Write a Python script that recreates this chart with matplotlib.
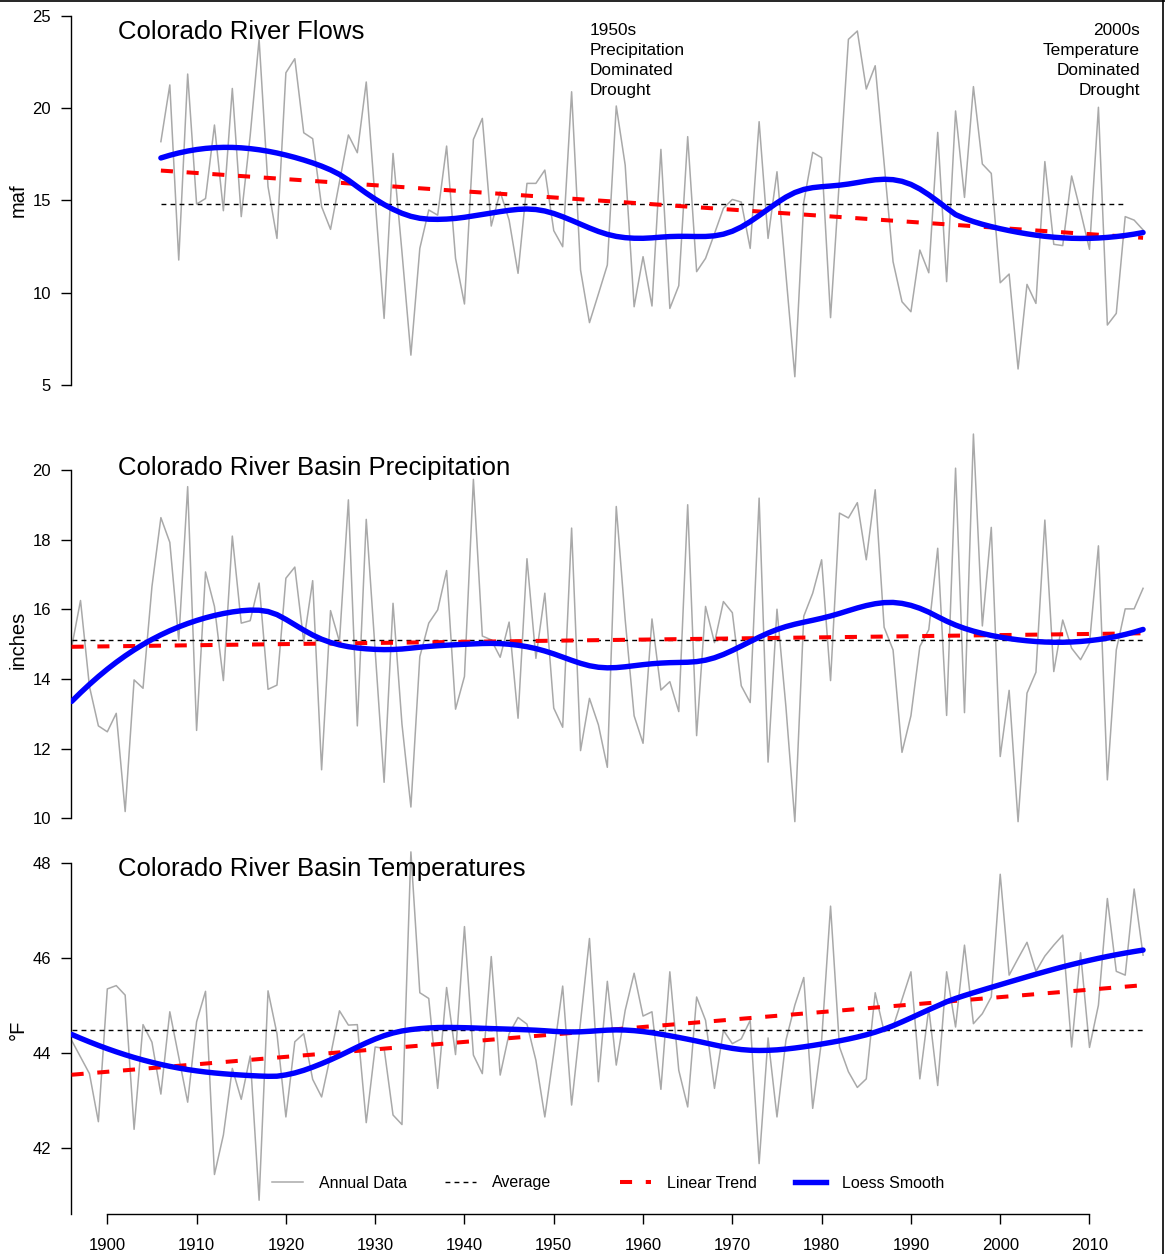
"""
Colorado River flows, basin precipitation and temperatures
 - annual data, average, linear trend and loess smooth
"""
from matplotlib import pyplot as plt
from matplotlib.lines import Line2D
import numpy as np

plt.rcParams['font.family'] = ['Liberation Sans', 'DejaVu Sans']

#%% Data
flow_years = np.arange(1906, 2017)
flow_maf = [18.18, 21.25, 11.77, 21.84,                                       # 1906-09
            14.80, 15.10, 19.08, 14.44, 21.06, 14.12, 18.50, 23.72, 15.74, 12.94,  # 1910s
            21.91, 22.67, 18.66, 18.34, 14.66, 13.43, 16.00, 18.54, 17.58, 21.41,  # 1920s
            15.00, 8.61, 17.54, 12.20, 6.62, 12.40, 14.48, 14.20, 17.94, 11.86,    # 1930s
            9.39, 18.30, 19.44, 13.61, 15.47, 13.93, 11.05, 15.92, 15.92, 16.64,   # 1940s
            13.36, 12.49, 20.88, 11.23, 8.38, 9.93, 11.50, 20.11, 16.91, 9.24,     # 1950s
            11.95, 9.28, 17.76, 9.15, 10.38, 18.45, 11.14, 11.86, 13.20, 14.57,    # 1960s
            15.05, 14.91, 12.40, 19.26, 12.94, 16.55, 11.00, 5.45, 14.90, 17.60,   # 1970s
            17.31, 8.65, 16.20, 23.72, 24.17, 21.03, 22.29, 17.00, 11.68, 9.51,    # 1980s
            8.97, 12.31, 11.08, 18.68, 10.60, 19.84, 15.16, 21.16, 16.97, 16.46,   # 1990s
            10.54, 11.01, 5.87, 10.45, 9.42, 17.10, 12.62, 12.55, 16.32, 14.40,    # 2000s
            12.35, 20.04, 8.25, 8.88, 14.12, 13.93, 13.40]                         # 2010-16

basin_years = np.arange(1896, 2017)
precip_in = [14.90, 16.25, 13.78, 12.65,                                      # 1896-99
             12.48, 13.01, 10.19, 13.97, 13.73, 16.65, 18.63, 17.92, 15.10, 19.52,  # 1900s
             12.52, 17.07, 16.08, 13.95, 18.10, 15.60, 15.67, 16.75, 13.70, 13.82,  # 1910s
             16.89, 17.21, 15.07, 16.82, 11.39, 15.96, 15.07, 19.14, 12.65, 18.58,  # 1920s
             14.80, 11.03, 16.17, 12.70, 10.32, 14.64, 15.60, 15.98, 17.11, 13.13,  # 1930s
             14.07, 19.73, 15.23, 15.12, 14.62, 15.63, 12.87, 17.45, 14.59, 16.46,  # 1940s
             13.16, 12.61, 18.33, 11.94, 13.44, 12.68, 11.46, 18.95, 15.70, 12.94,  # 1950s
             12.15, 15.72, 13.68, 13.92, 13.06, 19.00, 12.37, 16.08, 15.04, 16.22,  # 1960s
             15.90, 13.80, 13.32, 19.19, 11.61, 16.00, 13.20, 9.90, 15.80, 16.46,   # 1970s
             17.42, 13.95, 18.76, 18.62, 19.06, 17.42, 19.43, 15.48, 14.83, 11.89,  # 1980s
             12.94, 14.93, 15.41, 17.75, 12.95, 20.05, 13.03, 21.03, 15.52, 18.35,  # 1990s
             11.77, 13.67, 9.90, 13.59, 14.19, 18.56, 14.21, 15.69, 14.88, 14.55,   # 2000s
             15.02, 17.82, 11.10, 14.83, 16.01, 16.01, 16.60]                       # 2010-16

temp_f = [44.27, 43.92, 43.57, 42.56,                                         # 1896-99
          45.35, 45.42, 45.22, 42.40, 44.60, 44.23, 43.14, 44.87, 43.92, 42.97,  # 1900s
          44.66, 45.30, 41.45, 42.28, 43.68, 43.03, 43.94, 40.91, 45.31, 44.41,  # 1910s
          42.66, 44.24, 44.41, 43.45, 43.08, 43.95, 44.89, 44.59, 44.60, 42.54,  # 1920s
          44.13, 44.10, 42.70, 42.50, 48.23, 45.27, 45.15, 43.26, 45.38, 43.97,  # 1930s
          46.66, 43.96, 43.57, 46.03, 43.54, 44.41, 44.75, 44.61, 43.85, 42.66,  # 1940s
          44.00, 45.41, 42.91, 44.66, 46.41, 43.40, 45.51, 43.75, 44.90, 45.68,  # 1950s
          44.78, 44.87, 43.24, 45.71, 43.64, 42.87, 45.18, 44.69, 43.26, 44.48,  # 1960s
          44.20, 44.30, 44.69, 41.68, 44.32, 42.66, 44.27, 45.01, 45.59, 42.84,  # 1970s
          44.27, 47.09, 44.13, 43.61, 43.28, 43.46, 45.27, 44.45, 44.55, 45.13,  # 1980s
          45.71, 43.46, 44.94, 43.32, 45.71, 44.55, 46.27, 44.62, 44.83, 45.18,  # 1990s
          47.76, 45.64, 45.99, 46.33, 45.72, 46.04, 46.27, 46.48, 44.13, 46.11,  # 2000s
          44.12, 45.01, 47.25, 45.72, 45.64, 47.45, 46.06]                       # 2010-16

panel_titles = ['Colorado River Flows',
                'Colorado River Basin Precipitation',
                'Colorado River Basin Temperatures']
panel_units = ['maf', 'inches', '\u00b0F']
x_ticks = np.arange(1900, 2011, 10)

#%% Helpers
W, H = 1165, 1254
LOESS_SPAN = 0.4


def loess(x, y, span=0.4, degree=2, x_out=None):
    """
        Local polynomial regression with tricube weights (R style loess).

        Parameters:
         - x, y <np.array> : data
         - span <float> : fraction of points in each local window
         - degree <int> : degree of the local polynomial
         - x_out <np.array> : where to evaluate the smooth
        Returns:
         - y_out <np.array> : smoothed values at x_out
    """
    x = np.asarray(x, float)
    y = np.asarray(y, float)
    if x_out is None:
        x_out = x
    q = int(np.floor(len(x) * span))
    y_out = np.empty(len(x_out))
    for i, x0 in enumerate(x_out):
        d = np.abs(x - x0)
        h = np.sort(d)[q - 1]
        w = np.clip(1 - (d / h) ** 3, 0, None) ** 3
        X = np.vander(x - x0, degree + 1, increasing=True)
        sw = np.sqrt(w)
        coef = np.linalg.lstsq(X * sw[:, None], y * sw, rcond=None)[0]
        y_out[i] = coef[0]
    return y_out


def add_axes_px(left, top, right, bottom):
    # add axes from pixel box (origin at top-left of the figure)
    return fig.add_axes([left / W, 1 - bottom / H, (right - left) / W, (bottom - top) / H])


def draw_panel(ax, years, values, avg_end=None):
    years = np.asarray(years)
    values = np.asarray(values)
    # annual data
    ax.plot(years, values, color='#A9A9A9', lw=1.1, zorder=1)
    # average
    avg_years = years if avg_end is None else years[years <= avg_end]
    ax.plot(avg_years, np.full(len(avg_years), values.mean()), color='black', lw=1.0,
            dashes=(3.5, 3.0), zorder=2)
    # linear trend
    slope, intercept = np.polyfit(years, values, 1)
    ax.plot(years, slope * years + intercept, color='red', lw=2.9, dashes=(3.0, 3.4), zorder=3)
    # loess smooth, evaluated at the data years like R's predict()
    ax.plot(years, loess(years, values, span=LOESS_SPAN), color='blue', lw=3.9,
            solid_capstyle='round', solid_joinstyle='round', zorder=4)


def style_axes(ax, yticks, ybounds):
    for side in ['top', 'right', 'bottom']:
        ax.spines[side].set_visible(False)
    ax.spines['left'].set_bounds(*ybounds)
    ax.spines['left'].set_linewidth(1.0)
    ax.set_yticks(yticks)
    ax.tick_params(axis='y', length=7.2, width=1.0, pad=7, labelsize=12)
    ax.tick_params(axis='x', bottom=False, labelbottom=False)
    ax.set_xlim(1895.9, 2017)


#%% Figure
fig = plt.figure(figsize=(W / 100, H / 100), dpi=100)

# Top: flows
ax1 = add_axes_px(70.7, 0, 1152, 400)
draw_panel(ax1, flow_years, flow_maf, avg_end=2014)
ax1.set_ylim(4.19, 25.85)
style_axes(ax1, np.arange(5, 26, 5), (5, 25))

# Middle: precipitation
ax2 = add_axes_px(70.7, 425, 1152, 830)
draw_panel(ax2, basin_years, precip_in)
ax2.set_ylim(9.66, 21.29)
style_axes(ax2, np.arange(10, 21, 2), (10, 20))

# Bottom: temperatures
ax3 = add_axes_px(70.7, 840, 1152, 1214)
draw_panel(ax3, basin_years, temp_f)
ax3.set_ylim(40.62, 48.48)
style_axes(ax3, np.arange(42, 49, 2), (40.62, 48))
ax3.spines['bottom'].set_visible(True)
ax3.spines['bottom'].set_bounds(1900, 2010)
ax3.spines['bottom'].set_linewidth(1.0)
ax3.set_xticks(x_ticks)
ax3.tick_params(axis='x', bottom=True, labelbottom=True, length=7.2, width=1.0,
                pad=10, labelsize=12)

# Titles and y labels
title_y = [32, 468, 869]
label_y = [200, 640, 1030]
for title, unit, ty, ly in zip(panel_titles, panel_units, title_y, label_y):
    fig.text(118 / W, 1 - ty / H, title, fontsize=18.5, ha='left', va='center')
    fig.text(18 / W, 1 - ly / H, unit, fontsize=14.5, rotation=90, ha='center', va='center')

# Drought notes
fig.text(590 / W, 1 - 23 / H, '1950s\nPrecipitation\nDominated\nDrought',
         fontsize=12.4, ha='left', va='top', linespacing=1.42)
fig.text(1140 / W, 1 - 23 / H, '2000s\nTemperature\nDominated\nDrought',
         fontsize=12.4, ha='right', va='top', linespacing=1.42, multialignment='right')

# Legend (four entries spaced evenly)
legend_handles = [Line2D([], [], color='#A9A9A9', lw=1.1),
                  Line2D([], [], color='black', lw=1.0, dashes=(3.5, 3.0)),
                  Line2D([], [], color='red', lw=2.9, dashes=(3.0, 3.4)),
                  Line2D([], [], color='blue', lw=3.9)]
legend_labels = ['Annual Data', 'Average', 'Linear Trend', 'Loess Smooth']
legend_x = [272, 445, 620, 795]
for handle, label, lx in zip(legend_handles, legend_labels, legend_x):
    leg = fig.legend([handle], [label], loc='center left', bbox_to_anchor=(lx / W, 1 - 1183 / H),
                     frameon=False, fontsize=11.5, handlelength=1.95, handletextpad=1.0,
                     borderpad=0, borderaxespad=0)

# Outer frame lines (top and right)
fig.add_artist(Line2D([0, 1], [0.9995, 0.9995], transform=fig.transFigure, color='black', lw=1.2))
fig.add_artist(Line2D([1162.5 / W, 1162.5 / W], [0, 1], transform=fig.transFigure, color='black', lw=1.2))

fig.savefig('out.png', dpi=100)
